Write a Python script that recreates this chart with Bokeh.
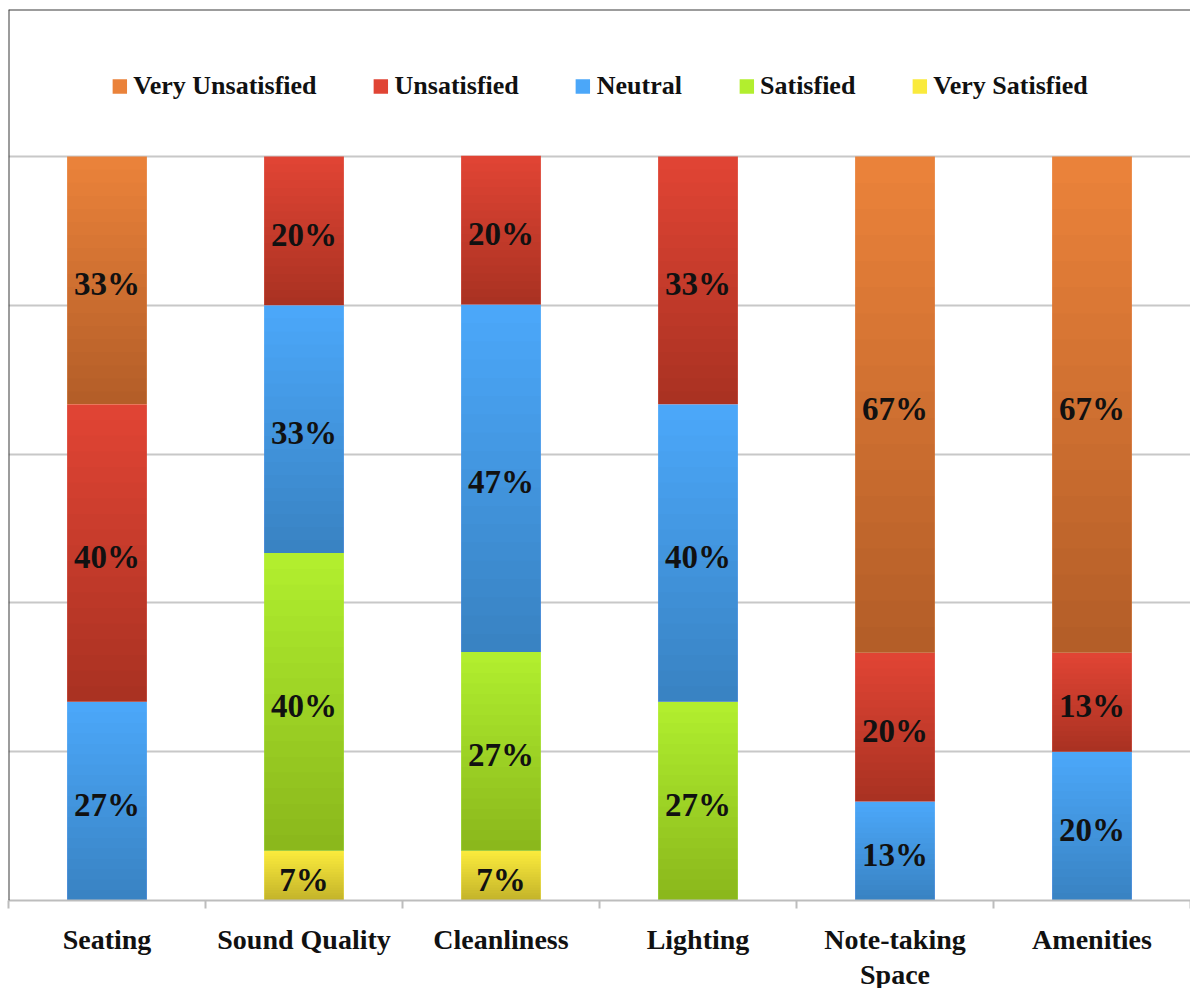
from bokeh.plotting import figure
from bokeh.models import ColumnDataSource, Range1d, FixedTicker, Legend, LegendItem, Span
from bokeh.embed import file_html
from bokeh.resources import INLINE
from bokeh.core.properties import value

# ---- data (percent of respondents) ----
categories = ["Seating", "Sound Quality", "Cleanliness", "Lighting", "Note-taking\nSpace", "Amenities"]
levels = ["Very Satisfied", "Satisfied", "Neutral", "Unsatisfied", "Very Unsatisfied"]  # stacking order, bottom -> top
very_satisfied = [0.0, 6.7, 6.7, 0.0, 0.0, 0.0]
satisfied = [0.0, 40.0, 26.7, 26.7, 0.0, 0.0]
neutral = [26.7, 33.3, 46.7, 40.0, 13.3, 20.0]
unsatisfied = [40.0, 20.0, 20.0, 33.3, 20.0, 13.3]
very_unsatisfied = [33.3, 0.0, 0.0, 0.0, 66.7, 66.7]
grid_values = [0, 20, 40, 60, 80, 100]

series = [very_satisfied, satisfied, neutral, unsatisfied, very_unsatisfied]
colors = ["#FAEA3C", "#B2EE2E", "#4BA7F9", "#E04434", "#EA823A"]

BAR_W = 0.405
x_centers = [i + 0.5 for i in range(len(categories))]
x_bounds = [i for i in range(len(categories) + 1)]

data = {"x": x_centers}
for lvl, vals in zip(levels, series):
    data[lvl] = vals
source = ColumnDataSource(data)

# label positions and shading bands computed from the stacked values
lx, ly, lt = [], [], []
sl, sr, sb, st = [], [], [], []
N_BANDS = 18
bottoms = [0.0] * len(categories)
for vals in series:
    for i, v in enumerate(vals):
        if v > 0:
            lx.append(x_centers[i])
            ly.append(bottoms[i] + v / 2.0)
            lt.append(f"{round(v)}%")
            # nested shading rectangles: each starts at segment bottom (darker towards bottom)
            for j in range(1, N_BANDS + 1):
                sl.append(x_centers[i] - BAR_W / 2)
                sr.append(x_centers[i] + BAR_W / 2)
                sb.append(bottoms[i])
                st.append(bottoms[i] + v * (N_BANDS + 1 - j) / (N_BANDS + 1))
        bottoms[i] += v
label_source = ColumnDataSource(dict(x=lx, y=ly, text=lt))
shade_source = ColumnDataSource(dict(left=sl, right=sr, bottom=sb, top=st))

Y_TOP = 119.76

p = figure(frame_width=1182, frame_height=891,
           x_range=Range1d(0, len(categories)), y_range=Range1d(0, Y_TOP),
           output_backend="svg", toolbar_location=None,
           min_border_left=8, min_border_top=9, min_border_right=0, min_border_bottom=80)
p.outline_line_color = None
p.background_fill_color = "white"

renderers = p.vbar_stack(levels, x="x", width=BAR_W, color=colors, line_color=None, source=source)

# vertical shading of each segment (lighter top, darker bottom)
p.quad(left="left", right="right", bottom="bottom", top="top", source=shade_source,
       fill_color="black", fill_alpha=0.0105, line_color=None)

p.text(x="x", y="y", text="text", source=label_source,
       text_align="center", text_baseline="middle", y_offset=4,
       text_font=value("Liberation Serif"), text_font_style="bold",
       text_font_size="33px", text_color="#111111")

# grid
p.xgrid.visible = False
p.ygrid.ticker = FixedTicker(ticks=grid_values)
p.ygrid.grid_line_color = "#c8c8c8"
p.ygrid.grid_line_width = 2

# axes
p.yaxis.visible = False
xa = p.xaxis[0]
xa.ticker = FixedTicker(ticks=x_centers, minor_ticks=x_bounds)
xa.major_label_overrides = {float(x): c for x, c in zip(x_centers, categories)}
xa.major_tick_line_color = None
xa.major_tick_out = 0
xa.major_tick_in = 0
xa.minor_tick_out = 8
xa.minor_tick_in = 0
xa.minor_tick_line_color = "#bdbdbd"
xa.minor_tick_line_width = 2
xa.axis_line_color = "#bdbdbd"
xa.axis_line_width = 2
xa.major_label_standoff = 15
xa.major_label_text_font = "Liberation Serif"
xa.major_label_text_font_style = "bold"
xa.major_label_text_font_size = "28px"
xa.major_label_text_color = "#111111"
xa.major_label_text_line_height = 1.15

# chart border (left & top)
p.add_layout(Span(location=0, dimension="height", line_color="#3a3a3a", line_width=2))
p.add_layout(Span(location=Y_TOP, dimension="width", line_color="#3a3a3a", line_width=2))

# legend (reverse of stacking order)
items = [LegendItem(label=lvl, renderers=[r]) for lvl, r in zip(levels, renderers)][::-1]
legend = Legend(items=items, orientation="horizontal", location="top_center",
                label_text_font="Liberation Serif", label_text_font_style="bold",
                label_text_font_size="26px", label_text_color="#111111",
                glyph_width=18, glyph_height=18, label_standoff=5, spacing=55,
                padding=0, margin=62, border_line_color=None, background_fill_alpha=0)
p.add_layout(legend)

open("out.html", "w").write(file_html(p, INLINE))
